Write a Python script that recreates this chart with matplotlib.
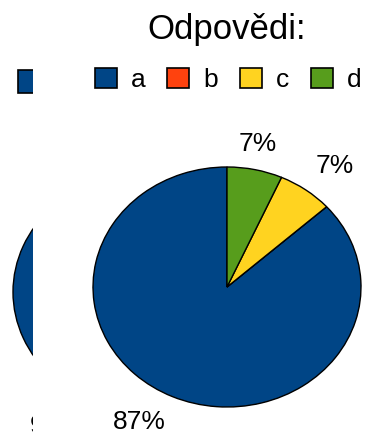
import numpy as np
import matplotlib.pyplot as plt
from matplotlib.patches import Patch, Rectangle

plt.rcParams['font.family'] = ['Liberation Sans', 'DejaVu Sans']

# answer counts per option
options = ["a", "b", "c", "d"]
counts = [13, 0, 1, 1]
colors = ["#004586", "#ff420e", "#ffd320", "#579d1c"]

# neighbouring chart, only its left edge is in view
left_counts = [1]
left_colors = ["#004586"]
left_label = "93%"

W, H = 365, 434
fig = plt.figure(figsize=(W / 100, H / 100), dpi=100)


def px_axes(x0, y0, x1, y1):
    # axes from pixel box (top-left origin)
    return fig.add_axes([x0 / W, (H - y1) / H, (x1 - x0) / W, (y1 - y0) / H])


total = sum(counts)
labels = [f"{round(100 * c / total)}%" if c > 0 else "" for c in counts]

ax = px_axes(93, 167, 361, 407)
wedges, texts = ax.pie(counts, colors=colors, startangle=90, labels=labels,
                       labeldistance=1.12,
                       wedgeprops=dict(edgecolor="black", linewidth=1.0),
                       textprops=dict(fontsize=19, color="black"))
# put the near corner of each label on its anchor point
for w, t in zip(wedges, texts):
    ang = np.deg2rad((w.theta1 + w.theta2) / 2)
    c, s = np.cos(ang), np.sin(ang)
    t.set_ha("left" if c > 0.3 else "right" if c < -0.3 else "center")
    t.set_va("bottom" if s > 0.3 else "top" if s < -0.3 else "center")
ax.set_aspect("auto")
ax.set_xlim(-1, 1)
ax.set_ylim(-1, 1)

# left chart, clipped at its axes edge
axl = px_axes(0, 100, 33, 434)
lw, _ = axl.pie(left_counts, colors=left_colors, startangle=90,
                wedgeprops=dict(edgecolor="black", linewidth=1.0))
for w in lw:
    w.set_clip_on(True)
    w.set_clip_path(axl.patch)
axl.set_aspect("auto")
axl.set_xlim(-1 - 13 / 134, -1 + 20 / 134)
axl.set_ylim(-142 / 120, 192 / 120)
lt = axl.text(-1 - 13 / 134 + 30 / 134, -1.02, left_label, fontsize=19,
              ha="left", va="top")
lt.set_clip_on(True)
lt.set_clip_path(axl.patch)

fig.text(227 / W, 1 - 30 / H, "Odpovědi:", ha="center", va="center", fontsize=25)

handles = [Patch(facecolor=c, edgecolor="black", linewidth=1.2) for c in colors]
fig.legend(handles, options, ncol=4, frameon=False, loc="center",
           bbox_to_anchor=(228 / W, 1 - 80 / H), fontsize=19,
           handlelength=0.83, handleheight=0.83, handletextpad=0.53,
           columnspacing=0.83, borderpad=0, borderaxespad=0)

# legend key of the left chart, cut at the same edge
fig.add_artist(Rectangle((18 / W, 1 - 93 / H), 20 / W, 23 / H,
                         transform=fig.transFigure, facecolor=colors[0],
                         edgecolor="black", linewidth=1.2))
fig.add_artist(Rectangle((33 / W, 1 - 100 / H), 10 / W, 40 / H,
                         transform=fig.transFigure, facecolor="white",
                         edgecolor="none"))

fig.savefig("out.png", dpi=100)
